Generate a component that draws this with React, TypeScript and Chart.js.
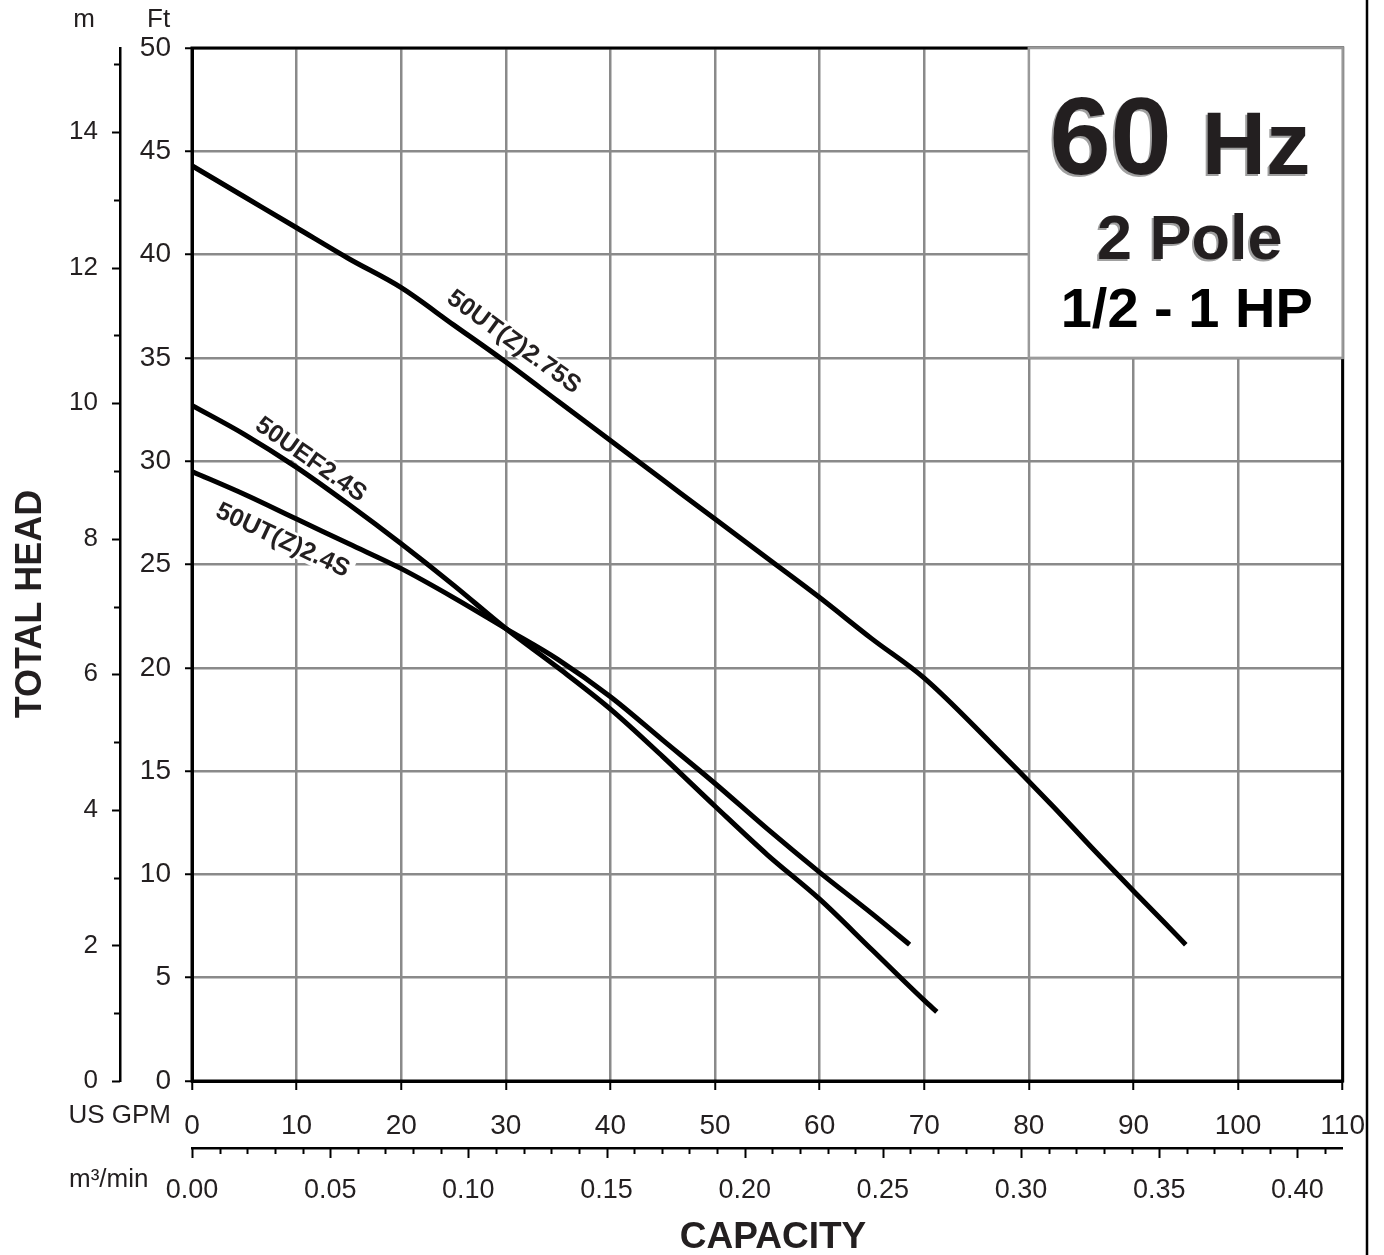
import React, { useEffect, useRef } from 'react';
import { Chart, registerables } from 'chart.js';

Chart.register(...registerables);

// ---------- data ----------
const FT_PER_M = 3.28084;
const M3MIN_PER_GPM = 0.00378541;

const gpmMin = 0;
const gpmMax = 110;
const ftMin = 0;
const ftMax = 50;

const gpm275 = [0, 5, 10, 15, 20, 25, 30, 35, 40, 45, 50, 55, 60, 65, 70, 76.3, 82.3, 86, 90, 93, 95];
const head275 = [44.3, 42.8, 41.3, 39.8, 38.4, 36.6, 34.8, 32.9, 31.0, 29.1, 27.2, 25.3, 23.4, 21.4, 19.5, 16.4, 13.3, 11.3, 9.2, 7.65, 6.6];

const gpmUEF = [0, 5, 10, 15, 20, 25, 30, 35, 40, 45, 50, 55, 60, 65, 70, 71.2];
const headUEF = [32.7, 31.3, 29.7, 27.9, 26.0, 24.0, 21.9, 20.0, 18.0, 15.7, 13.3, 10.95, 8.8, 6.35, 3.9, 3.35];

const gpm24 = [0, 5, 10, 15, 20, 25, 30, 35, 40, 45, 50, 55, 60, 65, 68.6];
const head24 = [29.5, 28.4, 27.2, 26.0, 24.8, 23.4, 21.9, 20.4, 18.6, 16.5, 14.4, 12.2, 10.1, 8.1, 6.6];

const seriesNames = ['50UT(Z)2.75S', '50UEF2.4S', '50UT(Z)2.4S'];
// label anchors in data units (GPM, ft) and rotation in degrees
const labelGpm = [30.8, 11.4, 8.7];
const labelFt = [35.8, 30.1, 26.2];
const labelAngle = [36, 35, 25];

const ftStep = 5;
const gpmStep = 10;
const mStep = 1;
const m3Step = 0.01;

const boxTitle = ['60', 'Hz', '2 Pole', '1/2 - 1 HP'];
const boxCorner = { gpm: 80, ft: 35 };

const FONT = "'Liberation Sans', Arial, Helvetica, sans-serif";
const TEXT = '#231f20';
const GRID = '#8a8a8a';

const toPts = (xs: number[], ys: number[]) => xs.map((x, i) => ({ x, y: ys[i] }));

const decor = {
  id: 'decor',
  beforeDatasetsDraw(chart: any) {
    const { ctx, scales } = chart;
    const xs = scales.x;
    const ys = scales.y;
    seriesNames.forEach((name, i) => {
      const px = xs.getPixelForValue(labelGpm[i]);
      const py = ys.getPixelForValue(labelFt[i]);
      ctx.save();
      ctx.translate(px, py);
      ctx.rotate((labelAngle[i] * Math.PI) / 180);
      ctx.font = `bold 25px ${FONT}`;
      const w = ctx.measureText(name).width;
      ctx.fillStyle = '#fff';
      ctx.fillRect(-w / 2 - 4, -12, w + 8, 24);
      ctx.fillStyle = TEXT;
      ctx.textAlign = 'center';
      ctx.textBaseline = 'middle';
      ctx.fillText(name, 0, 1);
      ctx.restore();
    });
  },
  afterDatasetsDraw(chart: any) {
    const { ctx, chartArea, scales } = chart;
    const xs = scales.x;
    const ys = scales.y;
    // plot frame
    ctx.save();
    ctx.strokeStyle = '#000';
    ctx.lineWidth = 3;
    ctx.strokeRect(chartArea.left, chartArea.top, chartArea.right - chartArea.left, chartArea.bottom - chartArea.top);
    ctx.restore();

    // title box
    const bl = xs.getPixelForValue(boxCorner.gpm);
    const bb = ys.getPixelForValue(boxCorner.ft);
    const bt = chartArea.top;
    const br = chartArea.right;
    ctx.save();
    ctx.fillStyle = '#fff';
    ctx.fillRect(bl, bt, br - bl, bb - bt);
    ctx.strokeStyle = '#9a9a9a';
    ctx.lineWidth = 2.5;
    ctx.strokeRect(bl, bt, br - bl, bb - bt);
    const cx = (bl + br) / 2;
    const drawShadowed = (txt: string, x: number, y: number, font: string, align: CanvasTextAlign) => {
      ctx.font = font;
      ctx.textAlign = align;
      ctx.textBaseline = 'alphabetic';
      ctx.fillStyle = '#a0a0a0';
      ctx.fillText(txt, x - 2, y + 2);
      ctx.fillStyle = TEXT;
      ctx.fillText(txt, x, y);
    };
    drawShadowed(boxTitle[0], cx - 14, bt + 126, `bold 110px ${FONT}`, 'right');
    drawShadowed(boxTitle[1], cx + 16, bt + 126, `bold 89px ${FONT}`, 'left');
    drawShadowed(boxTitle[2], cx + 4, bt + 211, `bold 63px ${FONT}`, 'center');
    ctx.font = `bold 56px ${FONT}`;
    ctx.textAlign = 'center';
    ctx.fillStyle = '#000';
    ctx.fillText(boxTitle[3], cx + 1, bt + 279);
    ctx.restore();
  },
  afterDraw(chart: any) {
    const { ctx, scales, height } = chart;
    const ym = scales.yM;
    const x2 = scales.x2;
    ctx.save();
    ctx.strokeStyle = '#000';
    ctx.lineWidth = 2;
    // metre axis ticks
    ym.ticks.forEach((t: any) => {
      const py = Math.round(ym.getPixelForValue(t.value)) + 0.5;
      const major = Math.round(t.value) % 2 === 0;
      const len = major ? 8 : 6;
      ctx.beginPath();
      ctx.moveTo(ym.right - len, py);
      ctx.lineTo(ym.right, py);
      ctx.stroke();
    });
    // m3/min axis ticks
    x2.ticks.forEach((t: any) => {
      const px = Math.round(x2.getPixelForValue(t.value)) + 0.5;
      const k = Math.round(t.value * 100);
      const len = k % 5 === 0 ? 10 : 6;
      ctx.beginPath();
      ctx.moveTo(px, x2.top);
      ctx.lineTo(px, x2.top + len);
      ctx.stroke();
    });

    // unit labels
    ctx.fillStyle = TEXT;
    ctx.font = `26px ${FONT}`;
    ctx.textBaseline = 'alphabetic';
    ctx.textAlign = 'center';
    ctx.fillText('m', 84, 27);
    ctx.textAlign = 'left';
    ctx.fillText('Ft', 147, 27);
    ctx.font = `26px ${FONT}`;
    ctx.textAlign = 'right';
    ctx.fillText('US GPM', 171, 1123);
    ctx.textAlign = 'left';
    ctx.fillText('m³/min', 69, 1187);

    // axis titles
    ctx.font = `bold 36px ${FONT}`;
    ctx.textAlign = 'center';
    ctx.textBaseline = 'middle';
    ctx.save();
    ctx.translate(31, 604);
    ctx.rotate(-Math.PI / 2);
    ctx.fillText('TOTAL HEAD', 0, 0);
    ctx.restore();
    ctx.font = `bold 37px ${FONT}`;
    ctx.fillText('CAPACITY', 773, 1238);

    // page border line on the right
    ctx.lineWidth = 2.5;
    ctx.beginPath();
    ctx.moveTo(1367, 0);
    ctx.lineTo(1367, height);
    ctx.stroke();
    ctx.restore();
  },
};

export default function App() {
  const ref = useRef<HTMLCanvasElement | null>(null);

  useEffect(() => {
    if (!ref.current) return;
    Chart.defaults.font.family = FONT;
    const lineStyle = {
      borderColor: '#000',
      backgroundColor: '#000',
      borderWidth: 5,
      pointRadius: 0,
      fill: false,
      cubicInterpolationMode: 'monotone',
    };
    const chart = new Chart(ref.current, {
      type: 'line',
      data: {
        datasets: [
          { label: seriesNames[0], data: toPts(gpm275, head275), ...lineStyle },
          { label: seriesNames[1], data: toPts(gpmUEF, headUEF), ...lineStyle },
          { label: seriesNames[2], data: toPts(gpm24, head24), ...lineStyle },
        ],
      },
      options: {
        responsive: false,
        animation: false,
        devicePixelRatio: 1,
        layout: { padding: { top: 48, right: 41, left: 0, bottom: 0 } },
        plugins: { legend: { display: false }, tooltip: { enabled: false } },
        scales: {
          x: {
            type: 'linear',
            position: 'bottom',
            weight: 0,
            min: gpmMin,
            max: gpmMax,
            afterFit: (s: any) => { s.height = 67; },
            grid: { color: GRID, lineWidth: 2.5, tickColor: '#000', tickLength: 9, tickWidth: 2 },
            border: { color: '#000', width: 3 },
            ticks: { stepSize: gpmStep, color: TEXT, font: { size: 28 }, padding: 19, maxRotation: 0, autoSkip: false },
          },
          x2: {
            type: 'linear',
            position: 'bottom',
            weight: 1,
            min: gpmMin * M3MIN_PER_GPM,
            max: gpmMax * M3MIN_PER_GPM,
            afterFit: (s: any) => { s.height = 107; },
            grid: { display: false },
            border: { color: '#000', width: 2.5 },
            ticks: {
              stepSize: m3Step,
              includeBounds: false,
              autoSkip: false,
              maxRotation: 0,
              minRotation: 0,
              color: TEXT,
              font: { size: 27 },
              padding: 18,
              callback: (v: any) => {
                const k = Math.round(Number(v) * 100);
                return k % 5 === 0 ? (k / 100).toFixed(2) : '';
              },
            },
          },
          y: {
            type: 'linear',
            position: 'left',
            weight: 0,
            min: ftMin,
            max: ftMax,
            afterFit: (s: any) => { s.width = 72; },
            grid: { color: GRID, lineWidth: 2.5, tickColor: '#000', tickLength: 7, tickWidth: 2 },
            border: { color: '#000', width: 3 },
            ticks: { stepSize: ftStep, color: TEXT, font: { size: 28 }, padding: 14, autoSkip: false },
          },
          yM: {
            type: 'linear',
            position: 'left',
            weight: 1,
            min: ftMin / FT_PER_M,
            max: ftMax / FT_PER_M,
            afterFit: (s: any) => { s.width = 120; },
            grid: { display: false },
            border: { color: '#000', width: 2.5 },
            ticks: {
              stepSize: mStep,
              includeBounds: false,
              autoSkip: false,
              color: TEXT,
              font: { size: 26 },
              padding: 14,
              callback: (v: any) => {
                const k = Math.round(Number(v));
                return k % 2 === 0 ? String(k) : '';
              },
            },
          },
        },
      },
      plugins: [decor],
    } as any);
    return () => chart.destroy();
  }, []);

  return (
    <div style={{ position: 'absolute', left: 0, top: 0, width: 1384, height: 1255, background: '#fff' }}>
      <canvas ref={ref} width={1384} height={1255} style={{ display: 'block' }} />
    </div>
  );
}
